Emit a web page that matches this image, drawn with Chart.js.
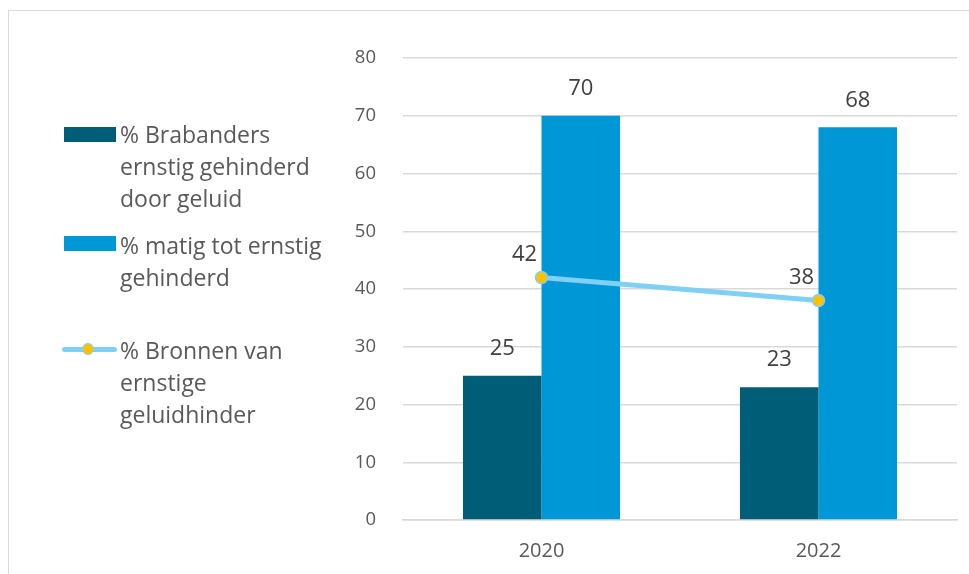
<!DOCTYPE html>
<html>
<head>
<meta charset="utf-8">
<script src="https://cdn.jsdelivr.net/npm/chart.js@4.4.1/dist/chart.umd.min.js"></script>
<style>
    html, body { margin: 0; padding: 0; background: #fff; overflow: hidden; }
    #wrap { position: relative; width: 969px; height: 574px; }
    #frame {
        position: absolute; left: 8px; top: 10px; width: 1000px; height: 600px;
        border-left: 1.5px solid #D9D9D9; border-top: 1.5px solid #D9D9D9;
    }
    #chart { position: absolute; left: 0; top: 0; }
    #legend {
        position: absolute; left: 0; top: 0;
        font-family: 'Open Sans', sans-serif; font-size: 23px; color: #595959;
    }
    .item { position: absolute; left: 120px; line-height: 32px; white-space: nowrap; }
    .swatch { position: absolute; }
</style>
</head>
<body>
<div id="wrap">
    <div id="frame"></div>
    <canvas id="chart" width="969" height="574"></canvas>
    <div id="legend"></div>
</div>
<script>
// ---- data ----
const categories   = ["2020", "2022"];
const ernstigData  = [25, 23];   // % Brabanders ernstig gehinderd door geluid
const matigData    = [70, 68];   // % matig tot ernstig gehinderd
const bronnenData  = [42, 38];   // % Bronnen van ernstige geluidhinder
const yTicks       = [0, 10, 20, 30, 40, 50, 60, 70, 80];

const seriesLines = [
    ["% Brabanders", "ernstig gehinderd", "door geluid"],
    ["% matig tot ernstig", "gehinderd"],
    ["% Bronnen van", "ernstige", "geluidhinder"],
];

const COLORS = {
    dark:   "#005D77",
    light:  "#0097D7",
    line:   "#7FD0F4",
    point:  "#FFC000",
    text:   "#595959",
    grid:   "#D9D9D9",
};

// value labels drawn on canvas (bars above, line points up-left)
const valueLabels = {
    id: "valueLabels",
    afterDatasetsDraw(chart) {
        const ctx = chart.ctx;
        ctx.save();
        ctx.font = "22px 'Open Sans', sans-serif";
        ctx.fillStyle = "#404040";
        ctx.textAlign = "center";
        ctx.textBaseline = "middle";
        chart.data.datasets.forEach((ds, i) => {
            const meta = chart.getDatasetMeta(i);
            meta.data.forEach((el, j) => {
                const v = ds.data[j];
                if (ds.type === "line") {
                    ctx.fillText(v, el.x - 17, el.y - 23);
                } else {
                    ctx.fillText(v, el.x, el.y - 27);
                }
            });
        });
        ctx.restore();
    }
};

const chart = new Chart(document.getElementById("chart"), {
    type: "bar",
    data: {
        labels: categories,
        datasets: [
            {
                type: "line",
                label: seriesLines[2].join(" "),
                data: bronnenData,
                borderColor: COLORS.line,
                borderWidth: 5,
                pointBackgroundColor: COLORS.point,
                pointBorderColor: COLORS.line,
                pointBorderWidth: 1.5,
                pointRadius: 6,
                order: 0,
            },
            {
                label: seriesLines[0].join(" "),
                data: ernstigData,
                backgroundColor: COLORS.dark,
                categoryPercentage: 0.567,
                barPercentage: 1,
                order: 1,
            },
            {
                label: seriesLines[1].join(" "),
                data: matigData,
                backgroundColor: COLORS.light,
                categoryPercentage: 0.567,
                barPercentage: 1,
                order: 1,
            },
        ],
    },
    options: {
        responsive: false,
        animation: false,
        devicePixelRatio: 1,
        layout: { padding: { left: 340, top: 58, right: 12, bottom: 14 } },
        scales: {
            x: {
                grid: { display: false, drawTicks: false },
                border: { display: true, color: COLORS.grid, width: 1.5 },
                ticks: {
                    color: COLORS.text, padding: 19,
                    font: { family: "'Open Sans', sans-serif", size: 20 },
                },
                afterFit: (s) => { s.height = 40; },
            },
            y: {
                min: 0, max: 80,
                afterBuildTicks: (s) => { s.ticks = yTicks.map(v => ({ value: v })); },
                grid: { color: COLORS.grid, lineWidth: 1.5, drawTicks: false },
                border: { display: false },
                ticks: {
                    color: COLORS.text, padding: 27,
                    font: { family: "'Open Sans', sans-serif", size: 18.5 },
                },
                afterFit: (s) => { s.width = 63; },
            },
        },
        plugins: {
            legend: { display: false },
            tooltip: { enabled: false },
        },
    },
    plugins: [valueLabels],
});

// ---- html legend ----
const legend = document.getElementById("legend");
const itemTops = [118, 229, 334];
const legendColors = [COLORS.dark, COLORS.light, null];
seriesLines.forEach((lines, i) => {
    const div = document.createElement("div");
    div.className = "item";
    div.style.top = itemTops[i] + "px";
    div.innerHTML = lines.join("<br>");
    legend.appendChild(div);
});
function addBox(x, y, w, h, bg, extra) {
    const d = document.createElement("div");
    d.className = "swatch";
    Object.assign(d.style, { left: x + "px", top: y + "px", width: w + "px", height: h + "px", background: bg }, extra || {});
    legend.appendChild(d);
}
addBox(64, 127, 52, 15, COLORS.dark);
addBox(64, 236, 52, 15, COLORS.light);
addBox(62, 347, 55, 5, COLORS.line, { borderRadius: "3px" });
addBox(82, 343, 10, 10, COLORS.point, { borderRadius: "50%", border: "1.5px solid " + COLORS.line });
</script>
</body>
</html>
